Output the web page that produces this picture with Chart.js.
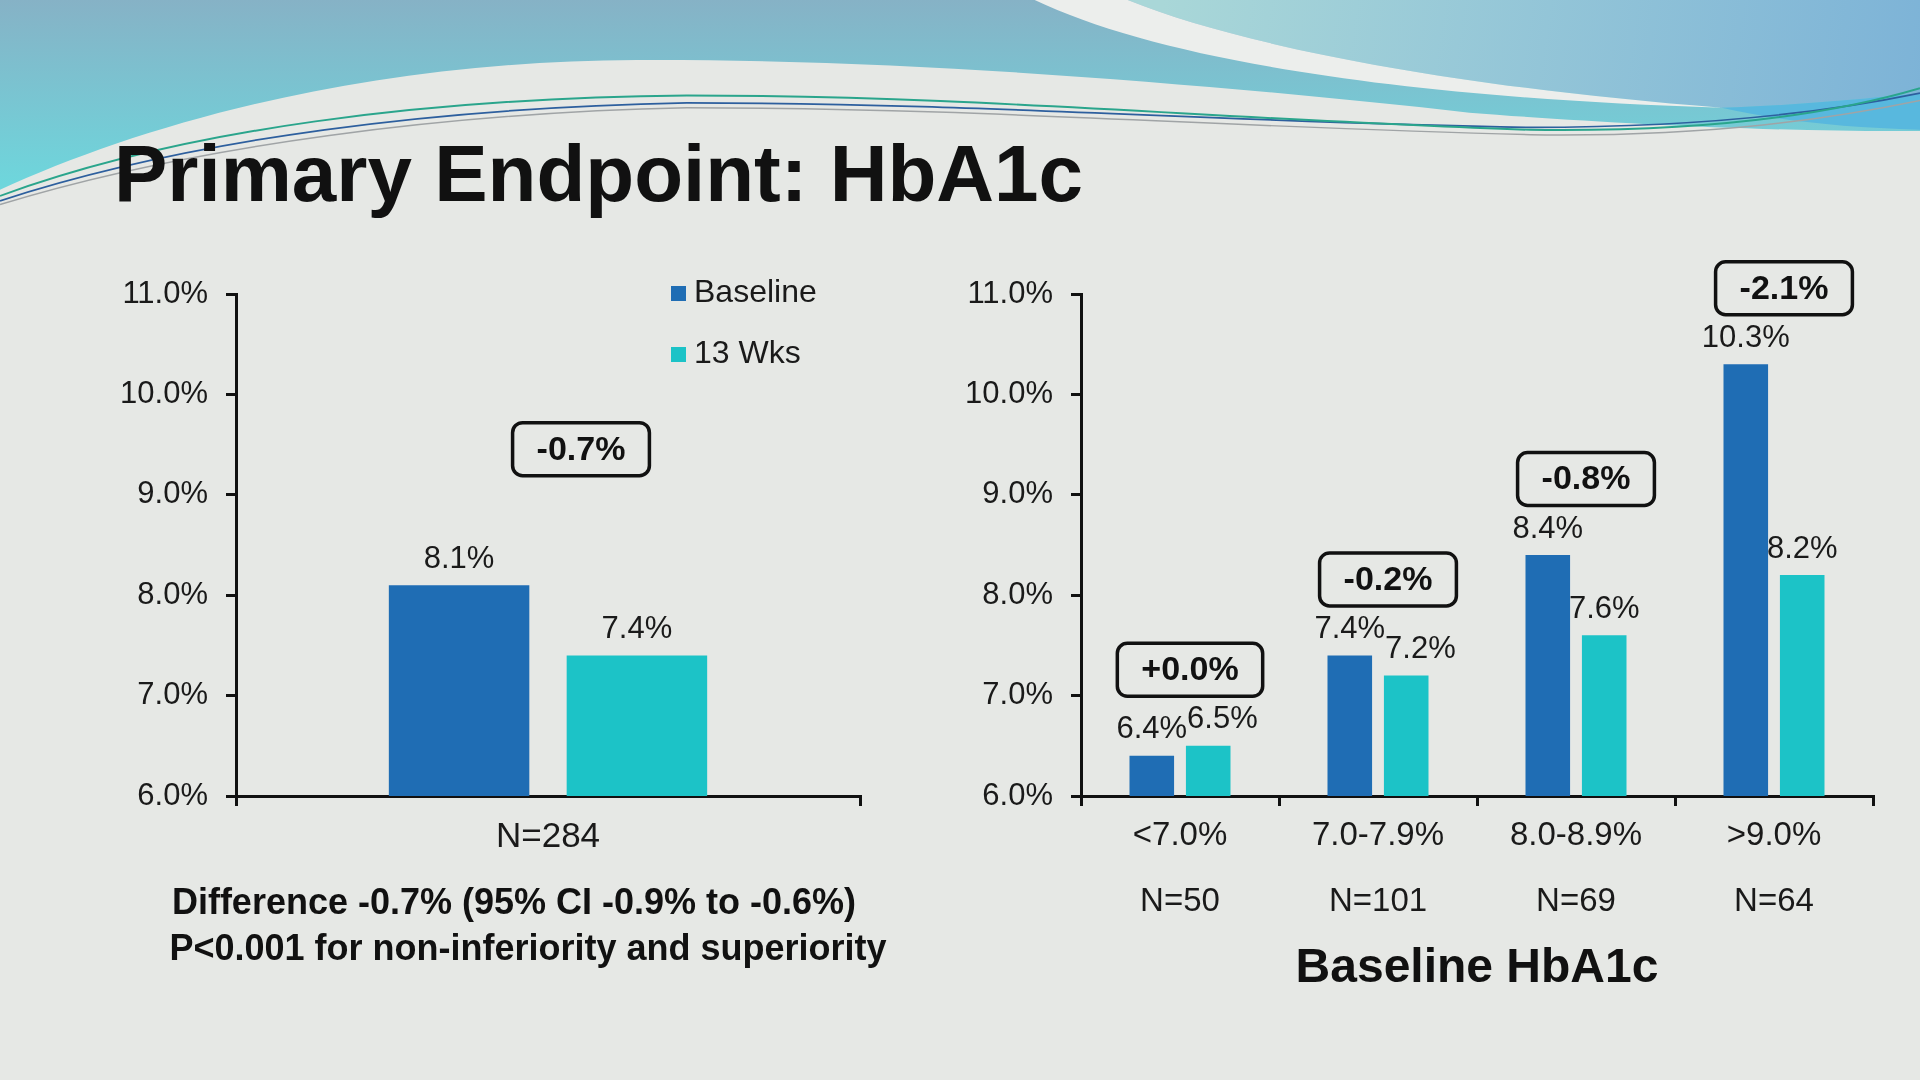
<!DOCTYPE html>
<html>
<head>
    <title>Primary Endpoint: HbA1c</title>
    <script src="https://cdn.jsdelivr.net/npm/chart.js"></script>
    <style>
        html, body { margin: 0; padding: 0; }
        body {
            width: 1920px; height: 1080px; position: relative; overflow: hidden;
            background: #e6e8e5; color: #111;
            font-family: "Liberation Sans", Arial, sans-serif;
        }
        #waves { position: absolute; left: 0; top: 0; }
        #title {
            position: absolute; left: 114px; top: 134px;
            font-size: 80px; font-weight: bold; line-height: 1; white-space: nowrap;
        }
        #leftBox { position: absolute; left: 0; top: 200px; width: 900px; height: 740px; }
        #rightBox { position: absolute; left: 900px; top: 200px; width: 1020px; height: 740px; }
        .note {
            position: absolute; width: 800px; text-align: center;
            font-size: 36px; font-weight: bold; line-height: 1; white-space: nowrap;
        }
        #axisTitle {
            position: absolute; left: 1177px; top: 942px; width: 600px; text-align: center;
            font-size: 48px; font-weight: bold; line-height: 1; white-space: nowrap;
        }
    </style>
</head>

<body>
    <!-- slide decoration, drawn in the 1568x882 frame of the original slide -->
    <svg id="waves" width="1920" height="1080" viewBox="0 0 1568 882" preserveAspectRatio="none">
        <defs>
            <linearGradient id="tealGrad" gradientUnits="userSpaceOnUse" x1="0" y1="0" x2="0" y2="150">
                <stop offset="0" stop-color="#86b2c6" />
                <stop offset="1" stop-color="#6ed6dc" />
            </linearGradient>
            <linearGradient id="skyGrad" gradientUnits="userSpaceOnUse" x1="950" y1="0" x2="1568" y2="90">
                <stop offset="0" stop-color="#a9d7d8" />
                <stop offset="1" stop-color="#7db3d7" />
            </linearGradient>
        </defs>
        <path d="M0,0 L1568,0 L1568,107 C1450,108 1300,100 1200,92 C1000,70 750,48 520,49 C300,50 120,100 0,155 Z" fill="url(#tealGrad)" />
        <path d="M921,0 C1020,40 1200,72 1406,88 C1470,86 1530,80 1568,76 L1568,0 Z" fill="url(#skyGrad)" />
        <path d="M845,0 C950,50 1150,80 1406,88 C1200,72 1020,40 921,0 Z" fill="#eceeec" />
        <path d="M1406,88 C1470,86 1530,80 1568,76 L1568,106 C1500,104 1450,98 1406,88 Z" fill="#58b8de" />
        <path d="M0,167 C160,118 370,92 561,88 C800,88 1000,104 1250,110 C1400,112 1500,96 1568,82" fill="none" stroke="#a0a4a6" stroke-width="1.2" />
        <path d="M0,164 C160,112 360,88 561,84 C800,84 1000,100 1250,104 C1400,104 1500,90 1568,76" fill="none" stroke="#2d5f9e" stroke-width="1.4" />
        <path d="M0,160 C150,105 350,80 561,78 C800,78 1000,98 1250,106 C1400,108 1500,92 1568,72" fill="none" stroke="#2aa58c" stroke-width="1.6" />
    </svg>

    <div id="title">Primary Endpoint: HbA1c</div>

    <div id="leftBox"><canvas id="overallChart"></canvas></div>
    <div id="rightBox"><canvas id="subgroupChart"></canvas></div>

    <div class="note" style="left:114px; top:884px;">Difference -0.7% (95% CI -0.9% to -0.6%)</div>
    <div class="note" style="left:128px; top:930px;">P&lt;0.001 for non-inferiority and superiority</div>
    <div id="axisTitle">Baseline HbA1c</div>

    <script>
        // values
        const seriesNames = ['Baseline', '13 Wks'];

        const overallLabels = ['N=284'];
        const overallBaseline = [8.1];
        const overallWeek13 = [7.4];
        const overallChange = ['-0.7%'];

        const subgroupRanges = ['<7.0%', '7.0-7.9%', '8.0-8.9%', '>9.0%'];
        const subgroupCounts = ['N=50', 'N=101', 'N=69', 'N=64'];
        const subgroupBaseline = [6.4, 7.4, 8.4, 10.3];
        const subgroupWeek13 = [6.5, 7.2, 7.6, 8.2];
        const subgroupChange = ['+0.0%', '-0.2%', '-0.8%', '-2.1%'];

        const yMin = 6, yMax = 11, yStep = 1;

        const BLUE = '#1f6db4';
        const CYAN = '#1cc3c7';
        const FONT = '"Liberation Sans", Arial, sans-serif';

        Chart.defaults.font.family = FONT;
        Chart.defaults.color = '#1a1a1a';

        // value labels over the bars + the boxed change figure
        const barNotes = {
            id: 'barNotes',
            afterDatasetsDraw(chart, args, opts) {
                const ctx = chart.ctx;
                const n = chart.data.labels.length;
                ctx.save();
                ctx.fillStyle = '#1a1a1a';
                ctx.textAlign = 'center';
                ctx.textBaseline = 'middle';
                for (let i = 0; i < n; i++) {
                    ctx.font = '31px ' + FONT;
                    let prevRight = null, prevY = null, top = Infinity;
                    chart.data.datasets.forEach((ds, d) => {
                        const bar = chart.getDatasetMeta(d).data[i];
                        const txt = ds.data[i].toFixed(1) + '%';
                        const w = ctx.measureText(txt).width;
                        const y = bar.y - opts.gap;
                        let x = bar.x;
                        // push the label right if it would run into its neighbour
                        if (prevRight !== null && Math.abs(y - prevY) < 34 && x - w / 2 < prevRight) {
                            x = prevRight + w / 2;
                        }
                        ctx.fillText(txt, x, y);
                        prevRight = x + w / 2;
                        prevY = y;
                        top = Math.min(top, bar.y);
                    });

                    const label = opts.changes[i];
                    ctx.font = 'bold 34px ' + FONT;
                    const bw = ctx.measureText(label).width + 48;
                    const bh = 53;
                    const cx = chart.scales.x.getPixelForValue(i) + opts.dx;
                    const cy = top - opts.dy;
                    ctx.beginPath();
                    ctx.roundRect(cx - bw / 2, cy - bh / 2, bw, bh, 10);
                    ctx.lineWidth = 3.5;
                    ctx.strokeStyle = '#111';
                    ctx.stroke();
                    ctx.fillStyle = '#111';
                    ctx.fillText(label, cx, cy + 1);
                    ctx.fillStyle = '#1a1a1a';
                }
                ctx.restore();
            }
        };

        // small square legend stacked inside the left plot
        const squareLegend = {
            id: 'squareLegend',
            afterDraw(chart, args, opts) {
                if (!opts.show) return;
                const ctx = chart.ctx;
                ctx.save();
                ctx.font = '32px ' + FONT;
                ctx.textBaseline = 'middle';
                ctx.textAlign = 'left';
                chart.data.datasets.forEach((ds, d) => {
                    const y = opts.y + d * opts.step;
                    ctx.fillStyle = ds.backgroundColor;
                    ctx.fillRect(opts.x, y - 7, 15, 15);
                    ctx.fillStyle = '#1a1a1a';
                    ctx.fillText(ds.label, opts.x + 23, y);
                });
                ctx.restore();
            }
        };

        function pctTick(v) { return Number(v).toFixed(1) + '%'; }

        function makeOptions(yWidth, padRight, xFont, xLineHeight, xPad, notes, legend) {
            return {
                responsive: true,
                maintainAspectRatio: false,
                animation: false,
                layout: { padding: { left: 0, top: 94, right: padRight, bottom: 0 } },
                plugins: {
                    legend: { display: false },
                    tooltip: { enabled: false },
                    barNotes: notes,
                    squareLegend: legend
                },
                scales: {
                    x: {
                        offset: true,
                        grid: { drawOnChartArea: false, offset: true, tickLength: 10, color: '#111', lineWidth: 3 },
                        border: { color: '#111', width: 3 },
                        ticks: {
                            color: '#1a1a1a', padding: xPad, maxRotation: 0, autoSkip: false,
                            font: { size: xFont, lineHeight: xLineHeight }
                        },
                        afterFit: s => { s.height = 144; }
                    },
                    y: {
                        min: yMin,
                        max: yMax,
                        grid: { drawOnChartArea: false, tickLength: 10, color: '#111', lineWidth: 3 },
                        border: { color: '#111', width: 3 },
                        ticks: { stepSize: yStep, padding: 18, color: '#1a1a1a', font: { size: 31 }, callback: pctTick },
                        afterFit: s => { s.width = yWidth; }
                    }
                }
            };
        }

        function makeDatasets(base, wk13) {
            return [{
                label: seriesNames[0],
                data: base,
                backgroundColor: BLUE,
                categoryPercentage: 0.57,
                barPercentage: 0.79
            }, {
                label: seriesNames[1],
                data: wk13,
                backgroundColor: CYAN,
                categoryPercentage: 0.57,
                barPercentage: 0.79
            }];
        }

        const overallChart = new Chart(document.getElementById('overallChart'), {
            type: 'bar',
            data: { labels: overallLabels, datasets: makeDatasets(overallBaseline, overallWeek13) },
            options: makeOptions(236, 40, 35, 1.2, 10,
                { gap: 26, dx: 33, dy: 136, changes: overallChange },
                { show: true, x: 671, y: 93, step: 61 }),
            plugins: [barNotes, squareLegend]
        });

        const subgroupChart = new Chart(document.getElementById('subgroupChart'), {
            type: 'bar',
            data: {
                labels: subgroupRanges.map((r, i) => [r, subgroupCounts[i]]),
                datasets: makeDatasets(subgroupBaseline, subgroupWeek13)
            },
            options: makeOptions(181, 47, 33, 2, -3,
                { gap: 26, dx: 10, dy: 76, changes: subgroupChange },
                { show: false }),
            plugins: [barNotes, squareLegend]
        });
    </script>
</body>

</html>
